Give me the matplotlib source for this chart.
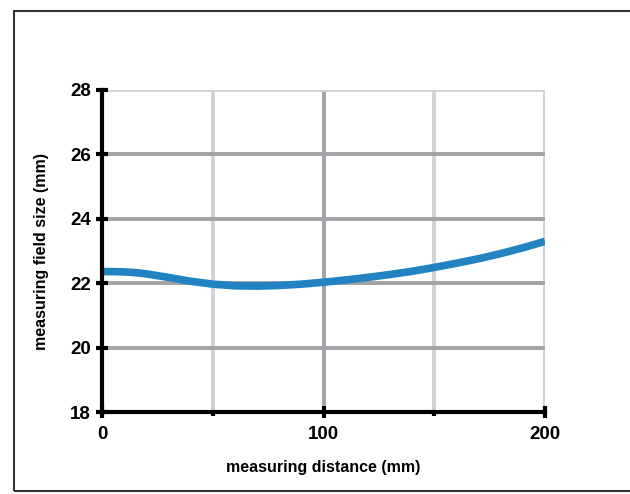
import matplotlib
matplotlib.use("Agg")
import matplotlib.pyplot as plt
from matplotlib.patches import Rectangle

# measuring distance (mm) vs. measuring field size (mm)
distance = [0, 5, 10, 15, 20, 30, 40, 50, 60, 70, 80, 90, 100,
            110, 120, 130, 140, 150, 160, 170, 180, 190, 200]
field_size = [22.36, 22.36, 22.35, 22.33, 22.29, 22.18, 22.06, 21.97, 21.92, 21.91, 21.93, 21.97, 22.03,
              22.10, 22.18, 22.27, 22.37, 22.49, 22.62, 22.76, 22.92, 23.10, 23.30]

x_major = [0, 100, 200]
x_minor = [50, 150]
y_ticks = [18, 20, 22, 24, 26, 28]

DARK = "#a2a2a7"
LIGHT = "#d2d2d4"

plt.rcParams["font.family"] = ["Liberation Sans", "DejaVu Sans"]
plt.rcParams["font.weight"] = "bold"

W, H = 630, 494
fig = plt.figure(figsize=(W / 100, H / 100), dpi=100)
ax = fig.add_axes([102 / W, (H - 412) / H, (545 - 102) / W, (412 - 90) / H])

# outer frame
fig.patches.append(Rectangle((14 / W, (H - 491) / H), 1.0, (491 - 11) / H,
                             transform=fig.transFigure, fill=False,
                             edgecolor="#333333", linewidth=1.5, zorder=0))

# grid lines
for xv in [50, 150, 200]:
    ax.axvline(xv, color=LIGHT, linewidth=2.8, zorder=1)
ax.axvline(100, color=DARK, linewidth=2.8, zorder=1)
for yv in [20, 22, 24, 26]:
    ax.axhline(yv, color=DARK, linewidth=2.8, zorder=1)
ax.axhline(28, color=LIGHT, linewidth=2.8, zorder=1)

ax.plot(distance, field_size, color="#2283c3", linewidth=5.5,
        solid_capstyle="butt", zorder=3)

ax.set_xlim(0, 200)
ax.set_ylim(18, 28)
ax.set_xticks(x_major)
ax.set_xticks(x_minor, minor=True)
ax.set_yticks(y_ticks)

for side in ["top", "right"]:
    ax.spines[side].set_visible(False)
for side in ["left", "bottom"]:
    ax.spines[side].set_linewidth(3)
    ax.spines[side].set_color("black")
    ax.spines[side].set_zorder(4)

ax.tick_params(axis="both", which="major", direction="inout", length=8, width=3,
               labelsize=13.5, pad=4)
ax.tick_params(axis="x", which="major", pad=6)
ax.tick_params(axis="x", which="minor", direction="out", length=3, width=3)

ax.set_xlabel("measuring distance (mm)", fontsize=11.5, fontweight="bold", labelpad=12)
ax.set_ylabel("measuring field size (mm)", fontsize=11.5, fontweight="bold", labelpad=15)

fig.savefig("out.png", dpi=100)
